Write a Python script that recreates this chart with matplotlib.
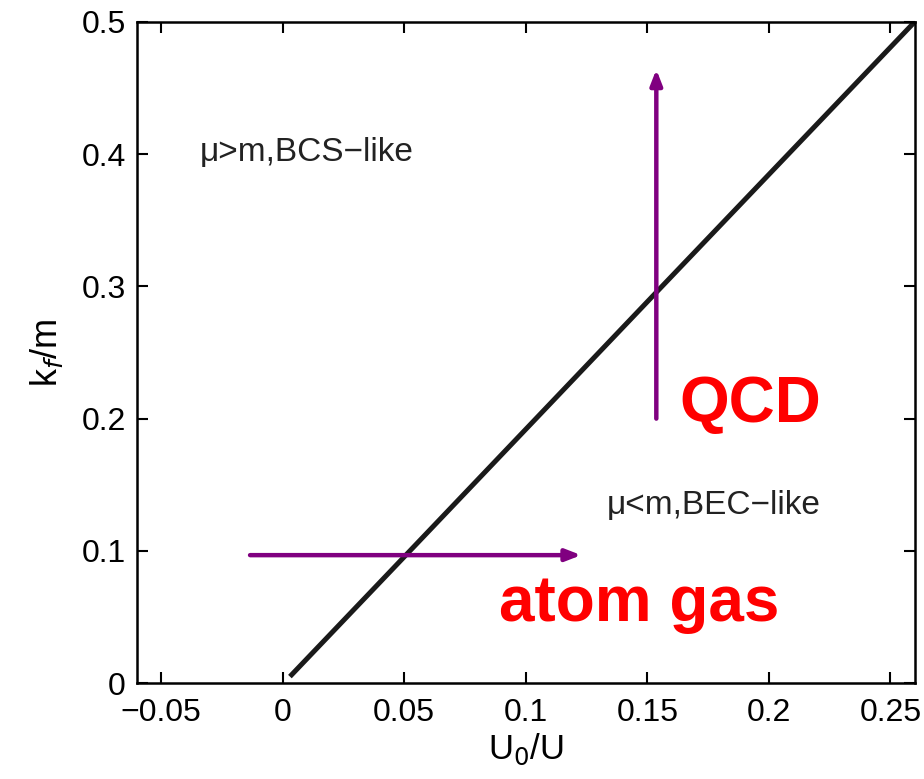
import matplotlib
matplotlib.use('Agg')
import matplotlib.pyplot as plt
from matplotlib.ticker import FuncFormatter

# boundary line mu = m
u_ratio = [0.003, 0.05, 0.155, 0.26]
kf_m = [0.005, 0.0955, 0.298, 0.5]

x_ticks = [-0.05, 0, 0.05, 0.1, 0.15, 0.2, 0.25]
y_ticks = [0, 0.1, 0.2, 0.3, 0.4, 0.5]

# arrows: (start, end)
qcd_arrow = [(0.1537, 0.2), (0.1537, 0.464)]
atom_arrow = [(-0.0134, 0.0968), (0.1228, 0.0968)]

plt.rcParams['font.family'] = ['Liberation Sans', 'DejaVu Sans']

fig = plt.figure(figsize=(9.24, 7.79), dpi=100)
ax = fig.add_axes([0.148, 0.123, 0.842, 0.849])

ax.plot(u_ratio, kf_m, c='#1a1a1a', lw=3.6, solid_capstyle='butt')

for (x0, y0), (x1, y1) in [qcd_arrow, atom_arrow]:
    ax.annotate('', xy=(x1, y1), xytext=(x0, y0),
                arrowprops=dict(arrowstyle='-|>,head_length=0.9,head_width=0.35',
                                color='#800080', lw=3.2, shrinkA=0, shrinkB=0))

ax.text(-0.034, 0.401, 'μ>m,BCS−like', fontsize=24, va='center', ha='left', color='#222222')
ax.text(0.1335, 0.1346, 'μ<m,BEC−like', fontsize=24, va='center', ha='left', color='#222222')
ax.text(0.1632, 0.21, 'QCD', fontsize=46, fontweight='bold', color='red', va='center', ha='left')
ax.text(0.089, 0.06, 'atom gas', fontsize=46, fontweight='bold', color='red', va='center', ha='left')

ax.set_xlim(-0.06, 0.26)
ax.set_ylim(0, 0.5)
ax.set_xticks(x_ticks)
ax.set_yticks(y_ticks)
fmt = FuncFormatter(lambda v, p: ('%g' % v).replace('-', '−'))
ax.xaxis.set_major_formatter(fmt)
ax.yaxis.set_major_formatter(fmt)
ax.tick_params(axis='both', direction='in', length=8, width=1.5, labelsize=23,
               top=True, right=True)
ax.tick_params(axis='x', pad=11)
ax.tick_params(axis='y', pad=8)
for s in ax.spines.values():
    s.set_linewidth(1.8)

ax.set_xlabel('U$_0$/U', fontsize=25, labelpad=2)
ax.set_ylabel('k$_f$/m', fontsize=26, labelpad=12)

fig.savefig('out.png', dpi=100)
